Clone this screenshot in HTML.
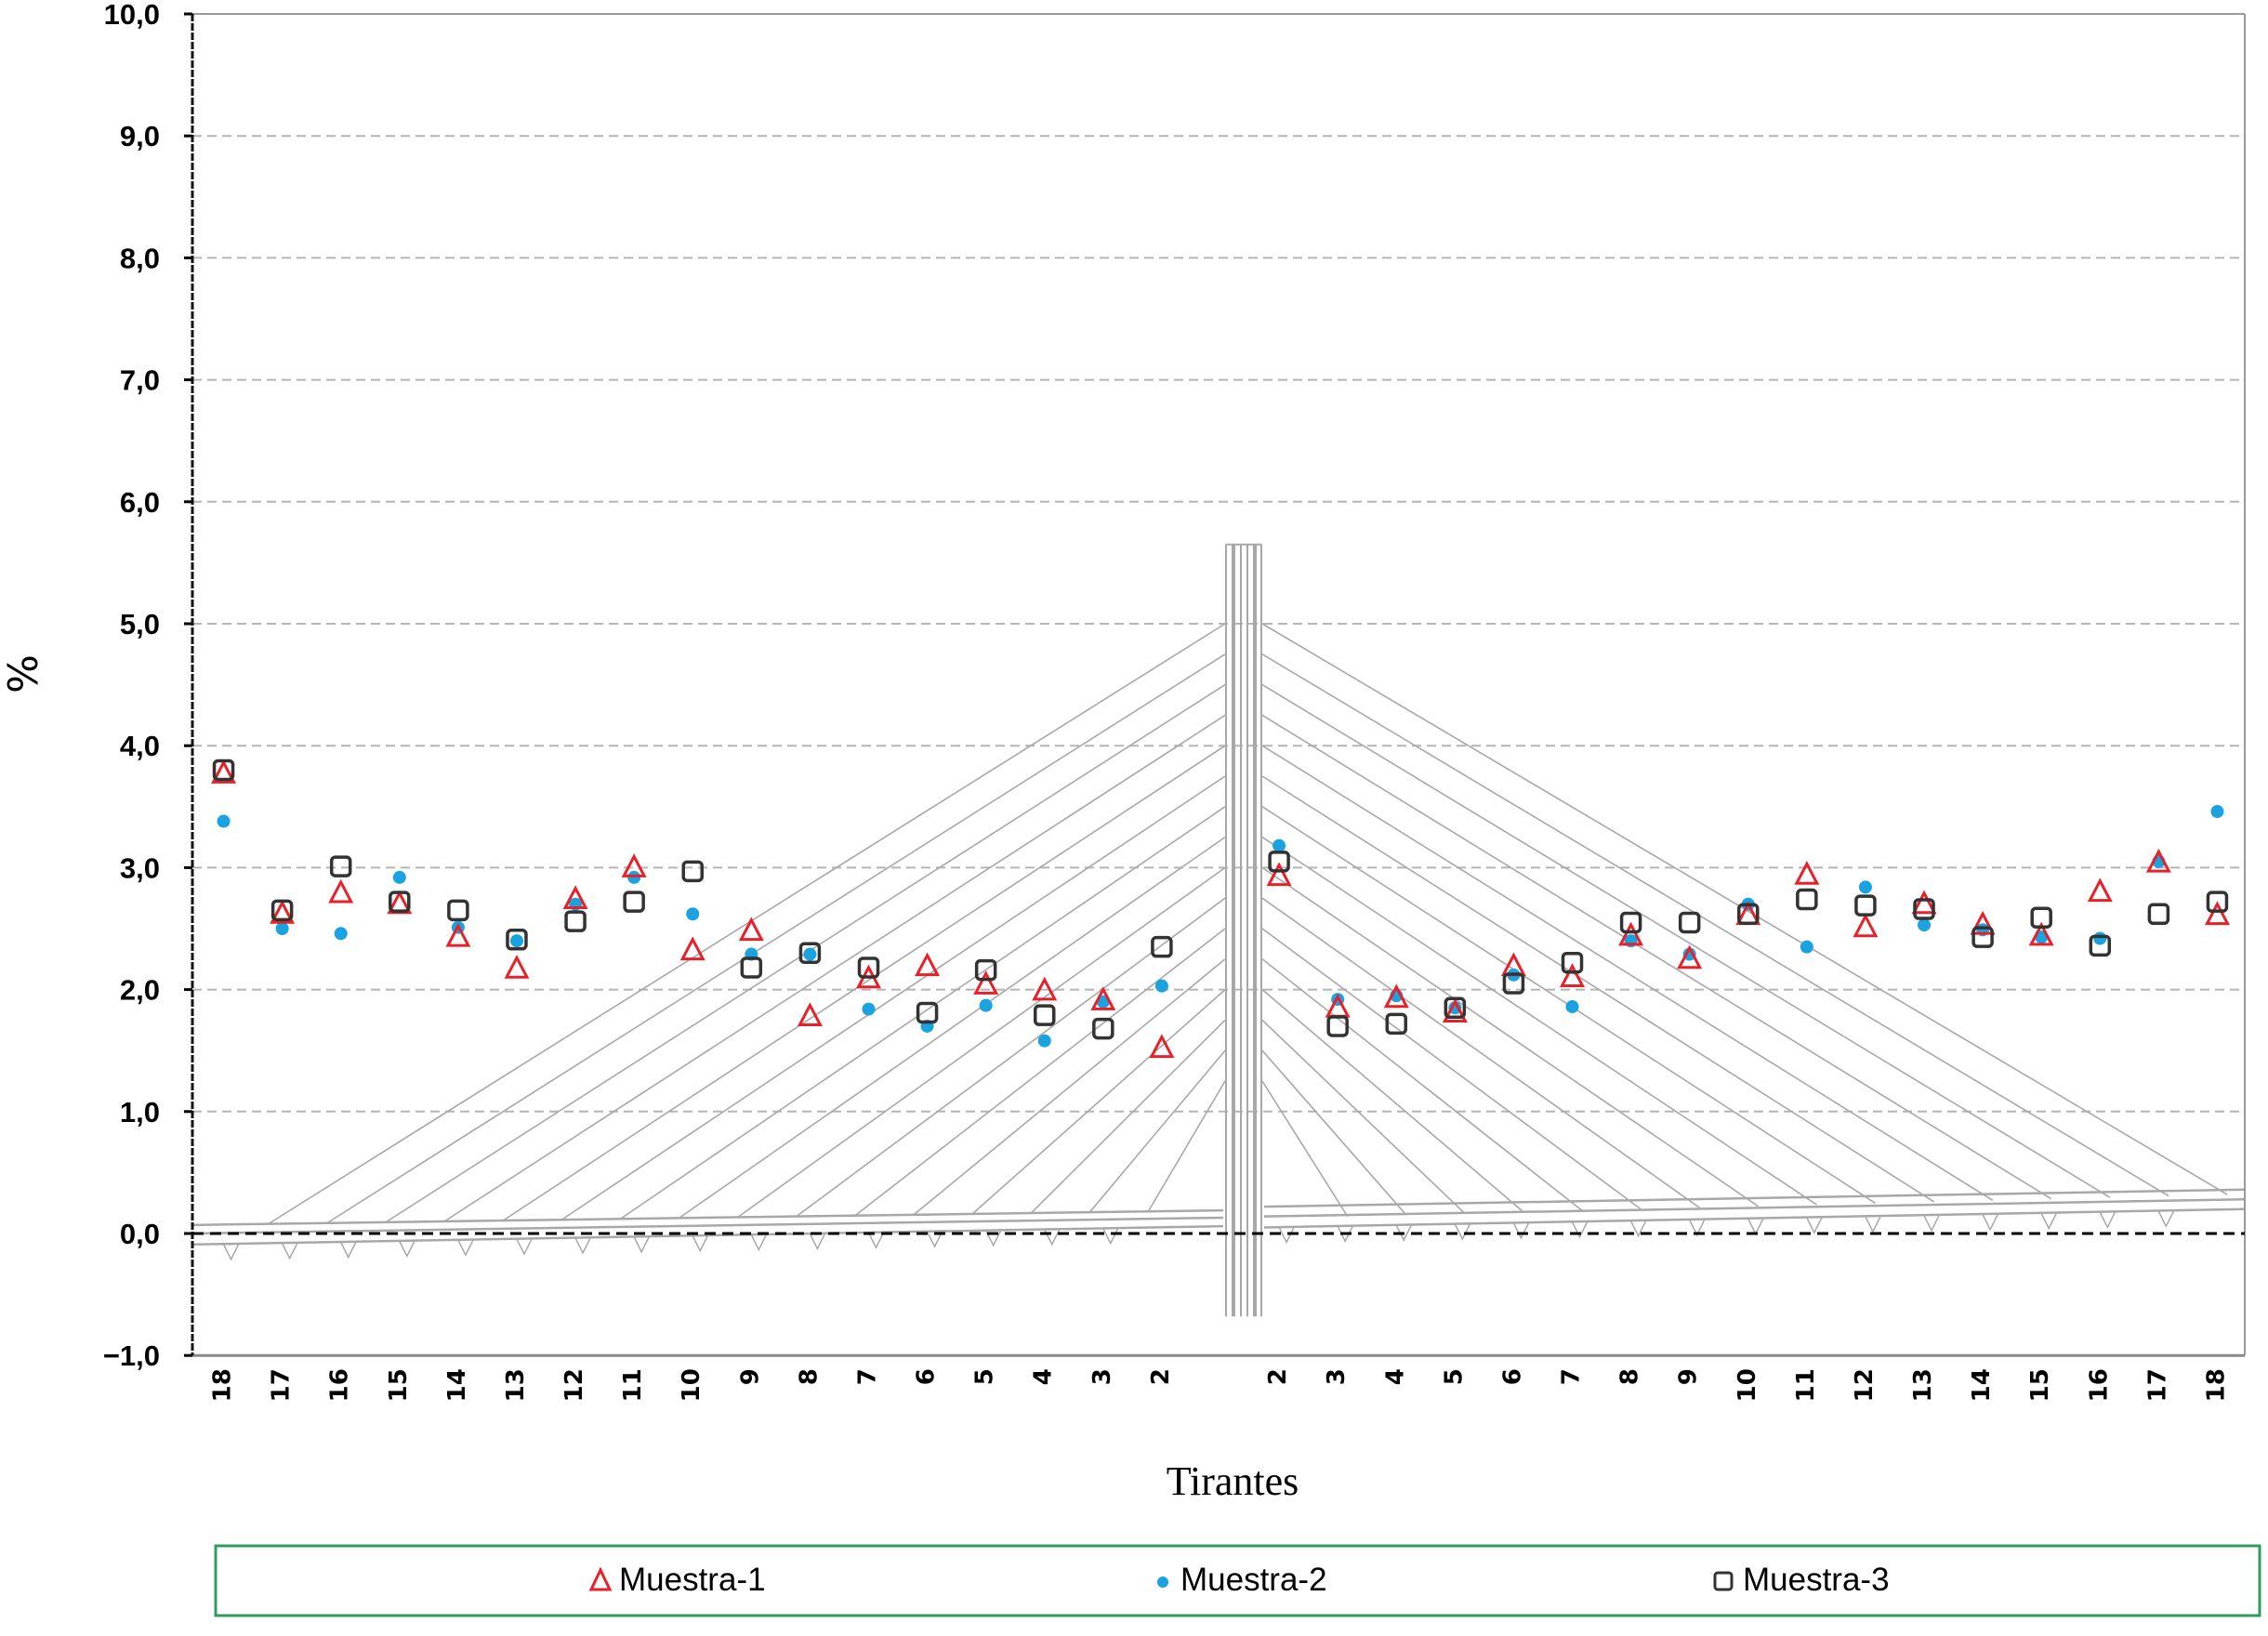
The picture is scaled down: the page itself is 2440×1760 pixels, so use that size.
<!DOCTYPE html>
<html><head><meta charset="utf-8"><style>
html,body{margin:0;padding:0;background:#fff;}
svg{display:block;}
text{font-family:"Liberation Sans",sans-serif;}
</style></head><body>
<svg id="chart" width="2440" height="1760" viewBox="0 0 2440 1760" xmlns="http://www.w3.org/2000/svg">
<g id="grid"></g>
<g id="bridge"></g>
<g id="axes"></g>
<g id="marks"></g>
<text x="0" y="0" transform="translate(8,725) rotate(90)" font-size="44" text-anchor="middle" style="font-family:'DejaVu Sans',sans-serif">%</text>
<text x="1326" y="1608" font-size="44" text-anchor="middle" style="font-family:'Liberation Serif',serif">Tirantes</text>
<g>
<rect x="232" y="1663" width="2199" height="75" fill="none" stroke="#2e9e5e" stroke-width="3"/>
<g>
<polygon points="646,1689 636,1710 656,1710" fill="none" stroke="#e8202a" stroke-width="3"/>
<text x="666" y="1711" font-size="35">Muestra-1</text></g>
<g>
<circle cx="1251" cy="1702" r="6" fill="#1aa3e0"/>
<text x="1270" y="1711" font-size="35">Muestra-2</text></g>
<g>
<rect x="1845" y="1692" width="18" height="18" rx="3" fill="none" stroke="#333" stroke-width="3"/>
<text x="1875" y="1711" font-size="35">Muestra-3</text></g>
</g>
</svg>
<script>
const categories = ["18","17","16","15","14","13","12","11","10","9","8","7","6","5","4","3","2","","2","3","4","5","6","7","8","9","10","11","12","13","14","15","16","17","18"];
const muestra1 = [3.77,2.62,2.79,2.70,2.43,2.17,2.74,3.00,2.32,2.48,1.78,2.09,2.19,2.04,1.99,1.91,1.52,null,2.93,1.85,1.93,1.81,2.19,2.10,2.44,2.25,2.61,2.94,2.51,2.70,2.53,2.44,2.80,3.04,2.61];
const muestra2 = [3.38,2.50,2.46,2.92,2.51,2.40,2.70,2.92,2.62,2.29,2.29,1.84,1.70,1.87,1.58,1.90,2.03,null,3.18,1.92,1.95,1.85,2.12,1.86,2.40,2.29,2.70,2.35,2.84,2.53,2.49,2.43,2.42,3.05,3.46];
const muestra3 = [3.80,2.65,3.01,2.72,2.65,2.41,2.56,2.72,2.97,2.18,2.30,2.18,1.81,2.16,1.79,1.68,2.35,null,3.05,1.70,1.72,1.85,2.05,2.22,2.55,2.55,2.62,2.74,2.69,2.66,2.43,2.59,2.36,2.62,2.72];
const yTicks = [-1,0,1,2,3,4,5,6,7,8,9,10];
const yTickLabels = ["\u22121,0","0,0","1,0","2,0","3,0","4,0","5,0","6,0","7,0","8,0","9,0","10,0"];

const NS="http://www.w3.org/2000/svg";
const L=207,R=2415,Y0=1327,UNIT=131.2;
const slot=(R-L)/categories.length;
function xs(i){return L+(i+0.5)*slot;}
function ys(v){return Y0-v*UNIT;}
function mk(tag,attrs,parent){const e=document.createElementNS(NS,tag);for(const k in attrs)e.setAttribute(k,attrs[k]);parent.appendChild(e);return e;}
const grid=document.getElementById('grid'),axes=document.getElementById('axes'),marks=document.getElementById('marks'),bridge=document.getElementById('bridge');

yTicks.forEach((t,i)=>{
  const y=ys(t);
  if(t>0&&t<10){const g=mk('line',{x1:L,x2:R,y1:y,y2:y,stroke:'#b5b5b5','stroke-width':2,'stroke-dasharray':'10,6'},grid);
  
  }
  const tl=mk('text',{x:172,y:y+11,'font-size':31,'font-weight':'bold','text-anchor':'end'},axes);
  tl.textContent=yTickLabels[i];
  
  
  mk('line',{x1:L-9,x2:L,y1:y,y2:y,stroke:'#000','stroke-width':3},axes);
});
mk('line',{x1:L,x2:R,y1:ys(10),y2:ys(10),stroke:'#999','stroke-width':2},axes);
mk('line',{x1:R,x2:R,y1:ys(10),y2:ys(-1),stroke:'#999','stroke-width':2},axes);
mk('line',{x1:L,x2:R,y1:ys(-1),y2:ys(-1),stroke:'#888','stroke-width':3},axes);
mk('line',{x1:L,x2:L,y1:ys(10),y2:ys(-1),stroke:'#111','stroke-width':3,'stroke-dasharray':'8,2'},axes);
const zl=mk('line',{x1:L,x2:R,y1:ys(0),y2:ys(0),stroke:'#000','stroke-width':3,'stroke-dasharray':'12,7'},axes);



categories.forEach((c,i)=>{
  if(!c)return;
  const t=mk('text',{x:0,y:0,'font-size':26,'font-weight':'bold','text-anchor':'end',style:"font-family:'DejaVu Sans',sans-serif",transform:`translate(${xs(i)+9},${ys(-1)+14}) rotate(-90)`},axes);
  t.textContent=c;
  
  
});

// bridge illustration
const G='#a8a8a8';
const tc=1338;
for(let i=0;i<16;i++){
  const dl=xs(0.8+i), dvl=0.08+0.1*i/15, tv=5.0-i*0.25;
  mk('line',{x1:dl,y1:ys(dvl),x2:tc-20,y2:ys(tv),stroke:G,'stroke-width':1.6},bridge);
  const dr=xs(34.2-i), dvr=0.32-0.18*i/15;
  mk('line',{x1:dr,y1:ys(dvr),x2:tc+20,y2:ys(tv),stroke:G,'stroke-width':1.6},bridge);
}
[[0.07,0.19],[0.0,0.13]].forEach(([a,b])=>mk('line',{x1:L,y1:ys(a),x2:tc-22,y2:ys(b),stroke:G,'stroke-width':2.5},bridge));
[[-0.09,0.06]].forEach(([a,b])=>mk('line',{x1:L,y1:ys(a),x2:tc-22,y2:ys(b),stroke:G,'stroke-width':2.5},bridge));
[[0.22,0.36],[0.14,0.28],[0.05,0.2]].forEach(([a,b])=>mk('line',{x1:tc+22,y1:ys(a),x2:R,y2:ys(b),stroke:G,'stroke-width':2.5},bridge));
for(let i=0;i<34;i++){
  if(i===16||i===17)continue;
  const x=xs(i)+10, v=i<17?-0.09+0.14*(i/16):0.05+0.14*((i-18)/16);
  mk('polyline',{points:`${x-8},${ys(v)} ${x},${ys(v)+16} ${x+8},${ys(v)}`,fill:'none',stroke:G,'stroke-width':1.5},bridge);
}
[-19,-11,-3,4,12,19].forEach(d=>{
  mk('line',{x1:tc+d,x2:tc+d,y1:ys(5.65),y2:ys(-0.68),stroke:G,'stroke-width':(d===-11||d===12)?4:2},bridge);
});
mk('line',{x1:tc-19,x2:tc+19,y1:ys(5.65),y2:ys(5.65),stroke:G,'stroke-width':2},bridge);

// series marks
muestra2.forEach((v,i)=>{ if(v===null)return;
  const c=mk('circle',{cx:xs(i)+2,cy:ys(v),r:7,fill:'#1aa3e0'},marks);
  
  
});
muestra1.forEach((v,i)=>{ if(v===null)return;
  const x=xs(i)+2,y=ys(v);
  const p=mk('polygon',{points:`${x},${y-12} ${x-11},${y+9} ${x+11},${y+9}`,fill:'none',stroke:'#e8202a','stroke-width':3},marks);
  
  
});
muestra3.forEach((v,i)=>{ if(v===null)return;
  const r=mk('rect',{x:xs(i)-8,y:ys(v)-10,width:20,height:20,rx:4,fill:'none',stroke:'#333','stroke-width':3.5},marks);
  
  
});
</script>
</body></html>
